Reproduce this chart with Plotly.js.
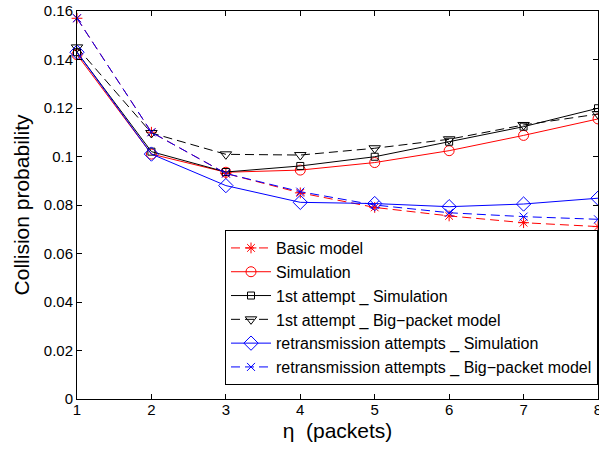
<!DOCTYPE html>
<html><head><meta charset="utf-8">
<script src="https://cdn.plot.ly/plotly-3.0.1.min.js"></script>
<style>body{margin:0;padding:0;background:#fff}#c{width:599px;height:456px}</style>
</head><body><div id="c"></div>
<script>
var eta = [1,2,3,4,5,6,7,8];
var basicModel = [0.157,0.110,0.093,0.085,0.079,0.0755,0.0727,0.0711];
var simulation = [0.142,0.101,0.0935,0.0944,0.0975,0.1024,0.1087,0.1155];
var firstSim = [0.143,0.102,0.0936,0.0961,0.0999,0.1061,0.1123,0.1199];
var firstBig = [0.145,0.1097,0.1009,0.1006,0.1034,0.1071,0.1130,0.1175];
var retxSim = [0.143,0.101,0.088,0.0811,0.0806,0.0793,0.0804,0.0828];
var retxBig = [0.157,0.110,0.093,0.0855,0.0800,0.0768,0.0752,0.0741];
var names = ["Basic model","Simulation","1st attempt _ Simulation","1st attempt _ Big\u2212packet model","retransmission attempts _ Simulation","retransmission attempts _ Big\u2212packet model"];

function tr(y, name, color, dash, sym, size){
  return {x: eta, y: y, name: name, type:'scatter', mode:'lines+markers', cliponaxis:false,
    line:{color:color, width:1, dash:dash},
    marker:{symbol:sym, size:size, color:color, line:{color:color, width:1}}};
}
var data = [
  tr(basicModel, names[0], '#ff0000', '9px,5px', 'asterisk-open', 9),
  tr(simulation, names[1], '#ff0000', 'solid', 'circle-open', 10),
  tr(firstSim, names[2], '#000000', 'solid', 'square-open', 7),
  tr(firstBig, names[3], '#000000', '9px,5px', 'triangle-down-open', 10),
  tr(retxSim, names[4], '#0000ff', 'solid', 'diamond-open', 11),
  tr(retxBig, names[5], '#0000ff', '9px,5px', 'x-thin-open', 8)
];
var layout = {
  width:599, height:456,
  margin:{l:77, r:1, t:11, b:57},
  paper_bgcolor:'#fff', plot_bgcolor:'#fff',
  font:{family:'Liberation Sans, Arial, sans-serif', color:'#000', size:15},
  xaxis:{range:[1,8], tickvals:eta, ticks:'inside', ticklen:5, tickcolor:'#000',
    showgrid:false, zeroline:false, showline:true, linecolor:'#000', linewidth:1, mirror:'ticks',
    ticklabeloverflow:'allow', ticklabelstandoff:-3, automargin:false,
    tickfont:{size:15}, title:{text:'\u03b7  (packets)', font:{size:21}, standoff:6}},
  yaxis:{range:[0,0.16], dtick:0.02, ticks:'inside', ticklen:5, tickcolor:'#000',
    showgrid:false, zeroline:false, showline:true, linecolor:'#000', linewidth:1, mirror:'ticks',
    automargin:false,
    tickfont:{size:15}, title:{text:'Collision probability', font:{size:21}, standoff:8}},
  legend:{x:1, xanchor:'right', y:0.036, yanchor:'bottom', bgcolor:'#fff',
    bordercolor:'#000', borderwidth:1, font:{size:16}, tracegroupgap:0, itemwidth:40,
    entrywidth:340, entrywidthmode:'pixels'},
  showlegend:true
};
Plotly.newPlot('c', data, layout, {staticPlot:true, displayModeBar:false});
</script></body></html>
